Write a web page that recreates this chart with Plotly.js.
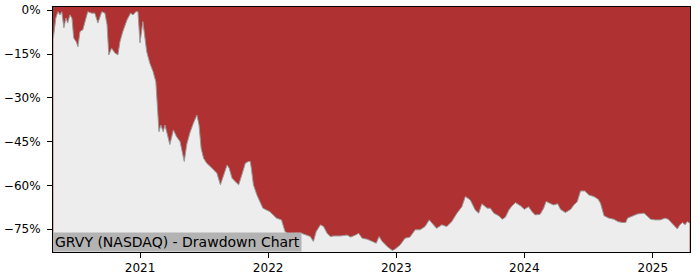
<!DOCTYPE html>
<html>
<head>
<meta charset="utf-8">
<script src="https://cdn.plot.ly/plotly-3.0.1.min.js"></script>
<style>html,body{margin:0;padding:0;background:#fff;}#chart{width:700px;height:280px;}</style>
</head>
<body>
<div id="chart"></div>
<script>
const dates = [
"2020-04-29","2020-05-06","2020-05-12","2020-05-18","2020-05-23","2020-05-29","2020-06-04","2020-06-09","2020-06-15","2020-06-21","2020-06-26",
"2020-07-04","2020-07-08","2020-07-14","2020-07-22","2020-07-28","2020-08-05","2020-08-16","2020-08-25","2020-09-03","2020-09-14","2020-09-23","2020-09-29",
"2020-10-04","2020-10-12","2020-10-21","2020-10-30","2020-11-05","2020-11-13","2020-11-25","2020-12-05","2020-12-12","2020-12-20","2020-12-26",
"2021-01-01","2021-01-09","2021-01-15","2021-01-20","2021-01-29","2021-02-07","2021-02-15","2021-02-20","2021-02-24","2021-03-01","2021-03-08","2021-03-13","2021-03-21","2021-03-27",
"2021-04-06","2021-04-15","2021-04-25","2021-05-01","2021-05-07","2021-05-14","2021-05-23","2021-06-02","2021-06-12","2021-06-18","2021-06-24","2021-07-01","2021-07-10","2021-07-20","2021-07-29",
"2021-08-08","2021-08-18","2021-08-27","2021-09-06","2021-09-12","2021-09-20","2021-09-29","2021-10-09","2021-10-18","2021-10-28","2021-11-06","2021-11-11","2021-11-14","2021-11-20","2021-11-30","2021-12-09","2021-12-17",
"2022-01-06","2022-01-25","2022-02-08","2022-02-18","2022-03-03","2022-03-22","2022-04-06","2022-04-20","2022-05-01","2022-05-10","2022-05-18","2022-05-30","2022-06-08","2022-06-18","2022-06-27",
"2022-07-07","2022-07-26","2022-08-14","2022-08-24","2022-09-07","2022-09-16","2022-09-26","2022-10-10","2022-10-25","2022-11-05","2022-11-13","2022-11-22","2022-12-07","2022-12-21","2022-12-29",
"2023-01-12","2023-01-26","2023-02-09","2023-02-24","2023-03-10","2023-03-24","2023-04-05","2023-04-17","2023-04-26","2023-05-11","2023-05-25","2023-06-08","2023-06-23","2023-07-07","2023-07-17","2023-07-31",
"2023-08-14","2023-08-24","2023-09-02","2023-09-17","2023-09-26","2023-10-06","2023-10-20","2023-10-30","2023-11-08","2023-11-18","2023-11-27","2023-12-07","2023-12-21",
"2024-01-01","2024-01-13","2024-01-23","2024-02-01","2024-02-15","2024-02-25","2024-03-03","2024-03-15","2024-03-24","2024-04-05","2024-04-13","2024-04-27","2024-05-12","2024-05-21","2024-05-31",
"2024-06-09","2024-06-21","2024-07-03","2024-07-17","2024-07-29","2024-08-05","2024-08-15","2024-08-29","2024-09-12","2024-09-24","2024-10-06","2024-10-16","2024-10-21","2024-11-04","2024-11-18","2024-12-07","2024-12-17","2024-12-26",
"2025-01-08","2025-01-22","2025-02-05","2025-02-14","2025-02-24","2025-03-05","2025-03-12","2025-03-19","2025-03-27","2025-04-03","2025-04-09","2025-04-16"
];
const drawdown = [
-9.5,-2.7,-0.5,-1.6,-0.5,-6,-2.7,-4.4,-1.6,-2.7,-9.5,
-11,-12.5,-7.3,-6.7,-3.9,-0.5,-1,-1,-4.4,-0.5,-1,-5,
-15.3,-13,-14.6,-15.3,-10.7,-7.3,-3.3,-1,-1.6,-0.5,-0.5,
-11.2,-3.9,-9.5,-14.2,-18.2,-21,-24.5,-33.5,-41.6,-39.3,-41.6,-39.3,-42.7,-46,
-41,-43.3,-45,-48.4,-51.8,-46,-42,-38.7,-35.9,-39.3,-47.3,-50.7,-52.4,-53.5,-54.7,
-55.8,-59.8,-56.4,-53,-54.1,-57.5,-58.7,-59.8,-56.4,-52.4,-51.8,-51.8,-54.1,-59.8,-63.3,-65.5,-67.8,
-69,-71.2,-71.8,-75.8,-77,-76.4,-76.4,-77,-77.5,-79.2,-75.8,-73.5,-74.1,-76.4,-77.5,
-77.3,-77.3,-77,-77.7,-77,-76.4,-78.1,-78.4,-79.2,-79.8,-77.5,-79.2,-81,-82.3,-81.8,
-80.4,-78.1,-77.7,-75.2,-75.2,-74.1,-71.8,-73.5,-74.7,-73.5,-74.1,-72.4,-69.5,-67.3,-63.8,-65,
-68.4,-69.5,-66.3,-67.8,-67.8,-69.5,-70.4,-71.6,-70.9,-68.4,-67,-65.9,-67,
-68.2,-67.3,-69,-70.1,-69.9,-67.8,-65.5,-66.1,-66.7,-66.3,-68.2,-69.3,-68.2,-66.7,-65.5,
-61.9,-61.9,-63.3,-63.8,-64.7,-66.1,-70.4,-71.2,-71.6,-72.4,-72.7,-72.7,-71.2,-70.4,-69.8,-69.5,-70.7,-71.6,
-71.8,-71.8,-71.2,-71.6,-72.9,-74.1,-74.9,-73.5,-72.7,-73.5,-72.4,-72.9
];
const yTickVals = [0,-15,-30,-45,-60,-75];
const yTickText = ["0%","\u221215%","\u221230%","\u221245%","\u221260%","\u221275%"];
const xTickVals = ["2021-01-01","2022-01-01","2023-01-01","2024-01-01","2025-01-01"];
const xTickText = ["2021","2022","2023","2024","2025"];
const baseline = [-100,-100];
const titleText = "GRVY (NASDAQ) - Drawdown Chart";

const traces = [
  {x:[dates[0],dates[dates.length-1]], y:baseline, mode:'lines', line:{width:0,color:'rgba(0,0,0,0)'}, hoverinfo:'skip', showlegend:false},
  {x:dates, y:drawdown, mode:'lines', fill:'tonexty', fillcolor:'#ededed', line:{color:'#9a9a9a',width:1}, showlegend:false}
];
const font = {family:'DejaVu Sans, sans-serif', size:12, color:'#000'};
const layout = {
  width:700, height:280,
  margin:{l:53,r:10,t:7,b:28,pad:0},
  paper_bgcolor:'#ffffff',
  plot_bgcolor:'#b03131',
  font:font,
  showlegend:false,
  xaxis:{type:'date', range:['2020-04-28','2025-04-17'], tickmode:'array', tickvals:xTickVals, ticktext:xTickText,
    showgrid:false, zeroline:false, showline:true, mirror:true, linecolor:'#000', linewidth:1,
    ticks:'outside', ticklen:5, tickwidth:1, tickcolor:'#000', tickfont:font},
  yaxis:{range:[-82.8,1.1], tickmode:'array', tickvals:yTickVals, ticktext:yTickText, showgrid:false, zeroline:false,
    showline:true, mirror:true, linecolor:'#000', linewidth:1, ticklabelstandoff:4,
    ticks:'outside', ticklen:5, tickwidth:1, tickcolor:'#000', tickfont:font},
  annotations:[{text:titleText, xref:'paper', yref:'paper', x:0, y:0, xanchor:'left', yanchor:'bottom',
    showarrow:false, bgcolor:'#b3b3b3', borderpad:1, font:{family:'DejaVu Sans, sans-serif', size:14, color:'#000'}}]
};
Plotly.newPlot('chart', traces, layout, {displayModeBar:false, staticPlot:true});
</script>
</body>
</html>
